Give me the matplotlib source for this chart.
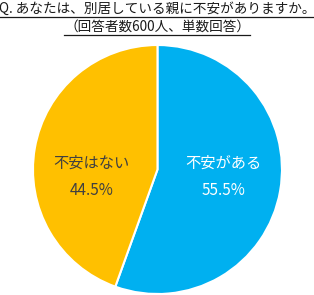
import matplotlib
matplotlib.use('Agg')
import matplotlib.pyplot as plt
import numpy as np
from matplotlib.lines import Line2D

plt.rcParams['font.family'] = ['Noto Sans CJK JP', 'DejaVu Sans']

labels = ['不安がある', '不安はない']
values = [55.5, 44.5]
colors = ['#00B0F0', '#FFC000']
text_colors = ['white', '#404040']
title1 = 'Q. あなたは、別居している親に不安がありますか。'
title2 = '（回答者数600人、単数回答）'

fig = plt.figure(figsize=(3.14, 2.95), dpi=100)
ax = fig.add_axes([0.105, 0.0034, 0.793, 0.844])

wedges, _ = ax.pie(values, colors=colors, startangle=90, counterclock=False,
                   wedgeprops=dict(edgecolor='white', linewidth=1.5))
ax.set_xlim(-1, 1)
ax.set_ylim(-1, 1)

# labels sit roughly half way out, text block slightly under the centre line
for w, lab, v, tc in zip(wedges, labels, values, text_colors):
    ang = np.deg2rad((w.theta1 + w.theta2) / 2)
    x = 0.535 * np.cos(ang)
    ax.text(x, 0.05, lab, ha='center', va='center', fontsize=11, color=tc)
    ax.text(x, -0.165, f'{v}%', ha='center', va='center', fontsize=11, color=tc)

t1 = fig.text(0.5, 1 - 8.5 / 295, title1, ha='center', va='center', fontsize=9.8, color='#1a1a1a')
t2 = fig.text(0.5, 1 - 27 / 295, title2, ha='center', va='center', fontsize=9.8, color='#1a1a1a')

fig.canvas.draw()
r = fig.canvas.get_renderer()
for t, yp in [(t1, 16.5), (t2, 35)]:
    bb = t.get_window_extent(r)
    fy = 1 - yp / 295
    fig.add_artist(Line2D([bb.x0 / 314, bb.x1 / 314], [fy, fy], color='#1a1a1a', linewidth=0.9))

fig.savefig('out.png', dpi=100)
